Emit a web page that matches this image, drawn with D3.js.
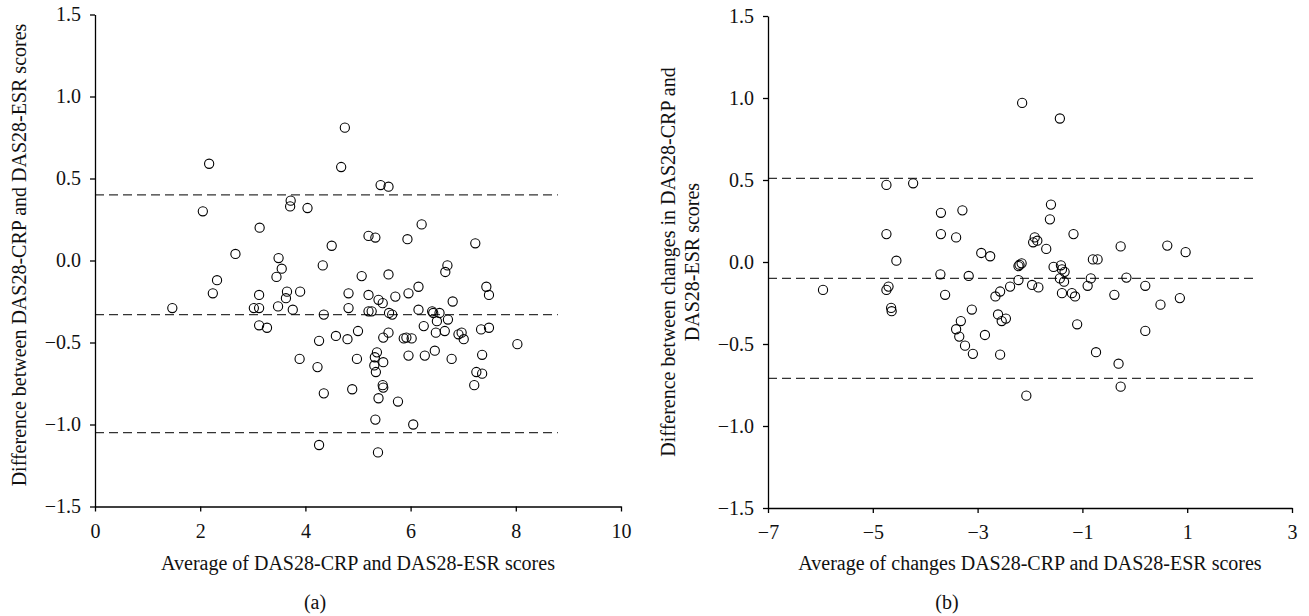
<!DOCTYPE html>
<html lang="en">
<head>
<meta charset="UTF-8">
<title>Bland-Altman plots</title>
<script src="https://d3js.org/d3.v7.min.js"></script>
<style>
  body { margin: 0; background: #fff; }
  text { font-family: "Liberation Serif", "DejaVu Serif", serif; fill: #111; }
</style>
</head>
<body>
<svg width="1309" height="616"></svg>
<script>
// panel (a): average vs difference of DAS28-CRP and DAS28-ESR
const avgA = [4.75, 2.17, 4.68, 5.43, 5.58, 2.05, 3.72, 3.71, 4.04, 3.13, 5.20, 5.33, 4.50, 2.67, 3.49, 4.33,
  3.55, 2.32, 3.45, 5.07, 5.58, 2.24, 3.12, 3.65, 3.63, 3.90, 4.82, 5.20, 5.39, 5.47, 1.47, 3.02, 3.12, 3.48,
  3.76, 4.82, 4.35, 5.20, 5.26, 5.59, 3.12, 3.27, 4.26, 4.58, 4.80, 5.00, 5.48, 5.58, 3.89, 4.23, 4.98, 4.35,
  4.89, 4.26, 5.38, 5.33, 5.39, 5.47, 5.48, 5.36, 5.32, 5.31, 5.34, 5.48, 5.71, 5.96, 6.15, 7.44, 7.49, 6.80,
  5.65, 6.15, 6.41, 6.43, 6.55, 6.50, 6.71, 5.87, 5.92, 6.02, 6.25, 6.48, 6.65, 6.91, 6.97, 7.01, 7.34, 7.49,
  8.03, 5.96, 6.27, 6.46, 6.78, 7.36, 7.25, 7.36, 7.21, 5.76, 6.05, 6.21, 5.94, 7.23, 6.70, 6.66];
const diffA = [0.81, 0.59, 0.57, 0.46, 0.45, 0.30, 0.365, 0.33, 0.32, 0.20, 0.15, 0.14, 0.09, 0.04, 0.015, -0.03,
  -0.05, -0.12, -0.10, -0.095, -0.085, -0.20, -0.21, -0.19, -0.23, -0.19, -0.20, -0.21, -0.24, -0.26, -0.29, -0.29, -0.29, -0.28,
  -0.30, -0.29, -0.33, -0.31, -0.31, -0.32, -0.395, -0.41, -0.49, -0.46, -0.48, -0.43, -0.47, -0.44, -0.60, -0.65, -0.60, -0.81,
  -0.785, -1.125, -1.17, -0.97, -0.84, -0.76, -0.775, -0.56, -0.59, -0.64, -0.68, -0.62, -0.22, -0.20, -0.16, -0.16, -0.21, -0.25,
  -0.33, -0.30, -0.31, -0.32, -0.32, -0.37, -0.36, -0.475, -0.47, -0.475, -0.40, -0.44, -0.43, -0.45, -0.44, -0.48, -0.42, -0.41,
  -0.51, -0.58, -0.58, -0.55, -0.60, -0.575, -0.68, -0.69, -0.76, -0.86, -1.00, 0.22, 0.13, 0.105, -0.03, -0.07];
const limitsA = [0.40, -0.33, -1.05];

// panel (b): average of changes vs difference of changes
const avgB = [-4.74, -4.23, -3.70, -3.29, -4.74, -3.70, -3.41, -2.93, -2.76, -4.55, -5.95, -4.74, -4.70, -4.65, -4.64,
  -3.71, -3.17, -3.62, -3.11, -3.32, -3.41, -3.35, -3.24, -3.09, -2.86, -2.61, -2.54, -2.46, -2.57, -1.91, -1.94,
  -1.86, -1.17, -1.69, -0.27, 0.62, 0.97, -2.22, -2.20, -2.16, -2.22, -1.55, -1.41, -1.39, -1.34, -1.43, -1.35,
  -0.80, -0.71, -0.84, -0.90, -0.16, 0.20, -0.39, 0.49, 0.86, 0.20, -1.10, -0.74, -0.31, -0.27, -2.07, -1.96,
  -1.84, -1.39, -1.20, -1.14, -2.38, -2.57, -2.66, -2.15, -1.43, -1.60, -1.62];
const diffB = [0.47, 0.48, 0.30, 0.315, 0.17, 0.17, 0.15, 0.055, 0.035, 0.008, -0.17, -0.17, -0.15, -0.28, -0.30,
  -0.075, -0.085, -0.20, -0.29, -0.36, -0.41, -0.455, -0.51, -0.56, -0.445, -0.32, -0.36, -0.345, -0.565, 0.15, 0.12,
  0.13, 0.17, 0.08, 0.095, 0.10, 0.06, -0.025, -0.017, -0.008, -0.11, -0.03, -0.02, -0.045, -0.06, -0.10, -0.12,
  0.016, 0.016, -0.10, -0.145, -0.095, -0.145, -0.20, -0.26, -0.22, -0.42, -0.38, -0.55, -0.62, -0.76, -0.815, -0.14,
  -0.155, -0.19, -0.19, -0.21, -0.15, -0.18, -0.21, 0.97, 0.875, 0.35, 0.26];
const limitsB = [0.51, -0.10, -0.71];

const yTicks = [-1.5, -1.0, -0.5, 0, 0.5, 1.0, 1.5];
const xTicksA = [0, 2, 4, 6, 8, 10];
const xTicksB = [-7, -5, -3, -1, 1, 3];

const fontSize = 20;
const svg = d3.select('svg');
svg.append('rect').attr('width', 1309).attr('height', 616).attr('fill', '#fff');

function drawPanel(p) {
  const x = d3.scaleLinear().domain(p.xDomain).range([p.left, p.right]);
  const y = d3.scaleLinear().domain([-1.5, 1.5]).range([p.bottom, p.top]);
  const g = svg.append('g');

  // limits of agreement
  g.append('g')
    .selectAll('line')
    .data(p.limits)
    .join('line')
    .attr('x1', x(p.xDomain[0]))
    .attr('x2', x(p.lineEnd))
    .attr('y1', d => y(d))
    .attr('y2', d => y(d))
    .attr('stroke', '#333')
    .attr('stroke-width', 1.3)
    .attr('stroke-dasharray', '9,5');

  // points
  g.append('g')
    .selectAll('circle')
    .data(p.avg.map((d, i) => [d, p.diff[i]]))
    .join('circle')
    .attr('cx', d => x(d[0]))
    .attr('cy', d => y(d[1]))
    .attr('r', 4.6)
    .attr('fill', 'none')
    .attr('stroke', '#000')
    .attr('stroke-width', 1.1);

  // axes
  const yAxis = g.append('g')
    .attr('transform', `translate(${p.left},0)`)
    .call(d3.axisLeft(y).tickValues(yTicks).tickFormat(d3.format('.1f')).tickSize(5).tickSizeOuter(0).tickPadding(9));
  const xAxis = g.append('g')
    .attr('transform', `translate(0,${p.bottom})`)
    .call(d3.axisBottom(x).tickValues(p.xTicks).tickFormat(d3.format('d')).tickSize(5).tickSizeOuter(0).tickPadding(12));

  [yAxis, xAxis].forEach(a => {
    a.select('.domain').attr('stroke', '#000').attr('stroke-width', 1.3);
    a.selectAll('.tick line').attr('stroke', '#000').attr('stroke-width', 1.3);
    a.selectAll('.tick text').attr('font-size', fontSize).attr('font-family', '"Liberation Serif", serif').attr('fill', '#111');
  });

  // x title and panel label
  g.append('text')
    .attr('x', (p.left + p.right) / 2)
    .attr('y', 570)
    .attr('text-anchor', 'middle')
    .attr('font-size', fontSize)
    .text(p.xTitle);
  g.append('text')
    .attr('x', p.labelX)
    .attr('y', 609)
    .attr('text-anchor', 'middle')
    .attr('font-size', fontSize)
    .text(p.label);

  // y title (one or more lines)
  p.yTitle.forEach((t, i) => {
    g.append('text')
      .attr('transform', `translate(${p.yTitleX[i]},${p.yTitleY}) rotate(-90)`)
      .attr('text-anchor', 'middle')
      .attr('dy', '0.35em')
      .attr('font-size', fontSize)
      .text(t);
  });
}

drawPanel({
  avg: avgA, diff: diffA, limits: limitsA,
  xDomain: [0, 10], lineEnd: 8.8, xTicks: xTicksA,
  left: 95, right: 621, top: 14.5, bottom: 506.5,
  xTitle: 'Average of DAS28-CRP and DAS28-ESR scores',
  label: '(a)', labelX: 315,
  yTitle: ['Difference between DAS28-CRP and DAS28-ESR scores'], yTitleX: [19], yTitleY: 255
});

drawPanel({
  avg: avgB, diff: diffB, limits: limitsB,
  xDomain: [-7, 3], lineEnd: 2.3, xTicks: xTicksB,
  left: 768, right: 1292, top: 16, bottom: 508,
  xTitle: 'Average of changes DAS28-CRP and DAS28-ESR scores',
  label: '(b)', labelX: 947,
  yTitle: ['Difference between changes in DAS28-CRP and', 'DAS28-ESR scores'], yTitleX: [668, 692], yTitleY: 262
});
</script>
</body>
</html>
